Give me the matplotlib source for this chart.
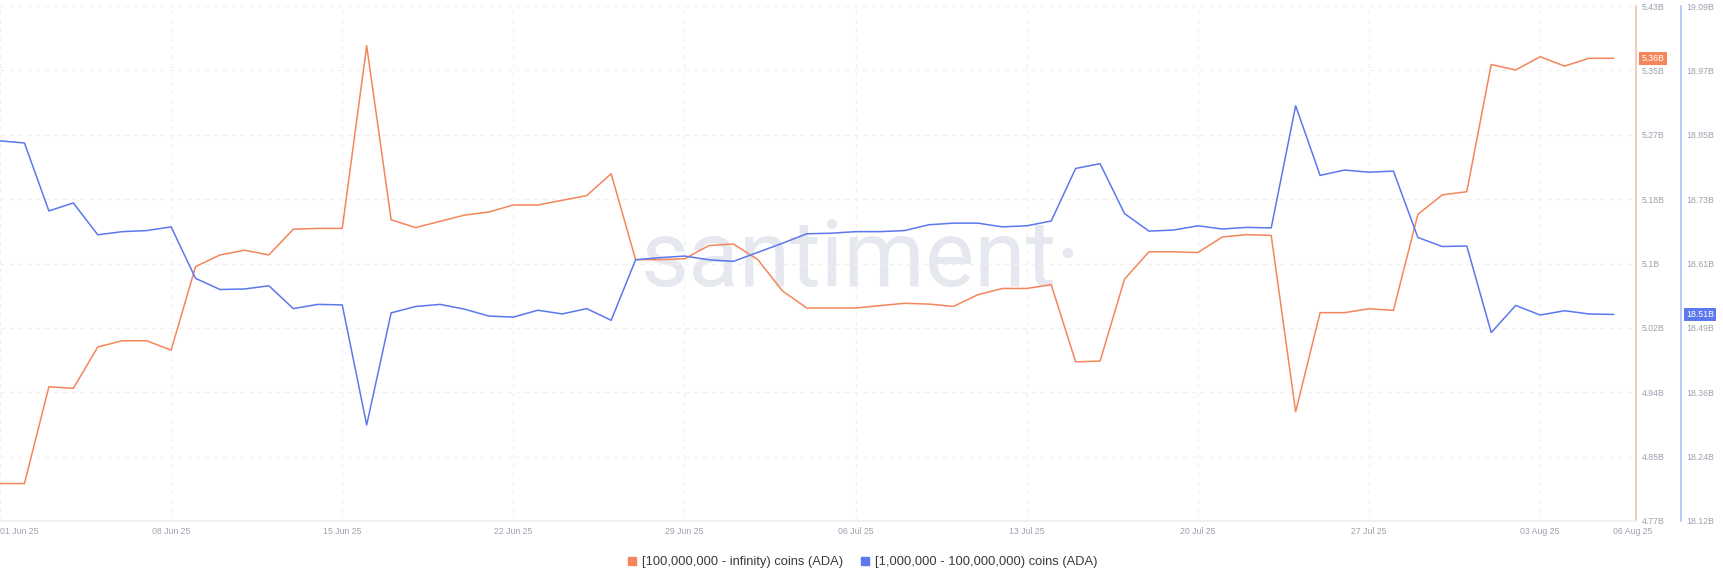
import matplotlib.pyplot as plt
import matplotlib.dates as mdates
from matplotlib.lines import Line2D
import numpy as np
import pandas as pd

plt.rcParams['font.family'] = ['Liberation Sans', 'DejaVu Sans']

# daily values, 01 Jun 25 .. 06 Aug 25, in billions of ADA
dates = pd.date_range("2025-06-01", "2025-08-06", freq="D")

big_holders = [4.818, 4.818, 4.942, 4.940, 4.993, 5.001, 5.001, 4.989, 5.096, 5.111,
               5.117, 5.111, 5.144, 5.145, 5.145, 5.379, 5.156, 5.146, 5.154, 5.162,
               5.166, 5.175, 5.175, 5.181, 5.187, 5.215, 5.105, 5.105, 5.106, 5.123,
               5.125, 5.105, 5.065, 5.043, 5.043, 5.043, 5.046, 5.049, 5.048, 5.045,
               5.060, 5.068, 5.068, 5.073, 4.974, 4.975, 5.080, 5.115, 5.115, 5.114,
               5.134, 5.137, 5.136, 4.910, 5.037, 5.037, 5.042, 5.040, 5.163, 5.188,
               5.192, 5.355, 5.348, 5.365, 5.353, 5.363, 5.363]

mid_holders = [18.836, 18.832, 18.704, 18.719, 18.659, 18.665, 18.667, 18.674, 18.577, 18.556,
               18.557, 18.563, 18.520, 18.528, 18.527, 18.301, 18.512, 18.524, 18.528, 18.519,
               18.506, 18.504, 18.517, 18.510, 18.520, 18.498, 18.612, 18.616, 18.619, 18.612,
               18.609, 18.626, 18.643, 18.661, 18.662, 18.665, 18.665, 18.667, 18.678, 18.681,
               18.681, 18.674, 18.676, 18.685, 18.784, 18.793, 18.699, 18.666, 18.668, 18.676,
               18.670, 18.673, 18.672, 18.902, 18.771, 18.781, 18.777, 18.779, 18.654, 18.637,
               18.638, 18.475, 18.526, 18.508, 18.516, 18.510, 18.509]

big_label = "[100,000,000 - infinity) coins (ADA)"
mid_label = "[1,000,000 - 100,000,000) coins (ADA)"

orange_ticks = np.linspace(4.77, 5.43, 9)
orange_labels = ['4.77B', '4.85B', '4.94B', '5.02B', '5.1B', '5.18B', '5.27B', '5.35B', '5.43B']
blue_ticks = np.linspace(18.12, 19.09, 9)
blue_labels = ['18.12B', '18.24B', '18.36B', '18.49B', '18.61B', '18.73B', '18.85B', '18.97B', '19.09B']

orange = '#f5855a'
blue = '#5b78ee'
tick_col = '#9ca2ad'

fig = plt.figure(figsize=(17.24, 5.81), dpi=100)
ax = fig.add_axes([0, 60/581, 1635.7/1724, 515/581])
ax2 = ax.twinx()

# watermark
ax.text(0.526, 0.456, 'santiment\u00b7', transform=ax.transAxes, fontsize=67,
        family='Roboto', color='#e6e8ef', ha='center', va='baseline', zorder=0)

ax.plot(dates, big_holders, color=orange, lw=1.1, zorder=3)
ax2.plot(dates, mid_holders, color=blue, lw=1.1, zorder=3)

# x axis
start = dates[0]
ax.set_xlim(start + pd.Timedelta(days=0.082), start + pd.Timedelta(days=66.91))
weeks = pd.date_range("2025-06-01", "2025-08-03", freq="7D")
ax.set_xticks(weeks)
ax.xaxis.set_major_formatter(mdates.DateFormatter('%d %b %y'))
ax.set_xticks([dates[-1]], minor=True)
ax.xaxis.set_minor_formatter(mdates.DateFormatter('%d %b %y'))
ax.tick_params(axis='x', which='both', length=0, pad=4.5, labelsize=6.3, labelcolor=tick_col)
ax.xaxis.get_major_ticks()[0].label1.set_horizontalalignment('left')
ax.xaxis.get_minor_ticks()[0].label1.set_horizontalalignment('left')

# orange y axis (right)
ax.set_ylim(4.77, 5.43)
ax.yaxis.tick_right()
ax.set_yticks(orange_ticks, orange_labels)
ax.tick_params(axis='y', length=0, pad=4.3, labelsize=6.3, labelcolor=tick_col)
ax.grid(True, which='major', color='#f0f0f0', ls=(0, (4, 4)), lw=0.8)

# blue y axis
ax2.set_ylim(18.12, 19.09)
ax2.set_yticks(blue_ticks, blue_labels)
ax2.tick_params(axis='y', length=0, pad=3.8, labelsize=6.3, labelcolor=tick_col)
ax2.spines['right'].set_position(('outward', 32.4))

for s in ['top', 'left']:
    ax.spines[s].set_visible(False)
    ax2.spines[s].set_visible(False)
ax2.spines['bottom'].set_visible(False)
ax.spines['bottom'].set_color('#efefef')
ax.spines['bottom'].set_linewidth(1.2)
ax.spines['right'].set_color('#f4bca0')
ax.spines['right'].set_linewidth(1.1)
ax2.spines['right'].set_color('#abbaf4')
ax2.spines['right'].set_linewidth(1.1)

# last value badges
ax.annotate(f'{big_holders[-1]:.2f}B', xy=(1, big_holders[-1]), xycoords=('axes fraction', 'data'),
            xytext=(4.3, 0), textcoords='offset points', ha='left', va='center',
            color='white', fontsize=6.3, annotation_clip=False, zorder=5,
            bbox=dict(boxstyle='square,pad=0.25', fc=orange, ec='none'))
ax2.annotate(f'{mid_holders[-1]:.2f}B', xy=(1, mid_holders[-1]), xycoords=('axes fraction', 'data'),
             xytext=(32.4 + 3.8, 0), textcoords='offset points', ha='left', va='center',
             color='white', fontsize=6.3, annotation_clip=False, zorder=5,
             bbox=dict(boxstyle='square,pad=0.25', fc=blue, ec='none'))

handles = [Line2D([], [], marker='s', ls='', color=orange, markersize=5.5, label=big_label),
           Line2D([], [], marker='s', ls='', color=blue, markersize=5.5, label=mid_label)]
fig.legend(handles=handles, loc='center', bbox_to_anchor=(0.5, 0.032), ncol=2, frameon=False,
           fontsize=9.3, handletextpad=0.35, columnspacing=1.3, handlelength=0.8,
           labelcolor='#3a3a3a')

fig.savefig('out.png', dpi=100)
